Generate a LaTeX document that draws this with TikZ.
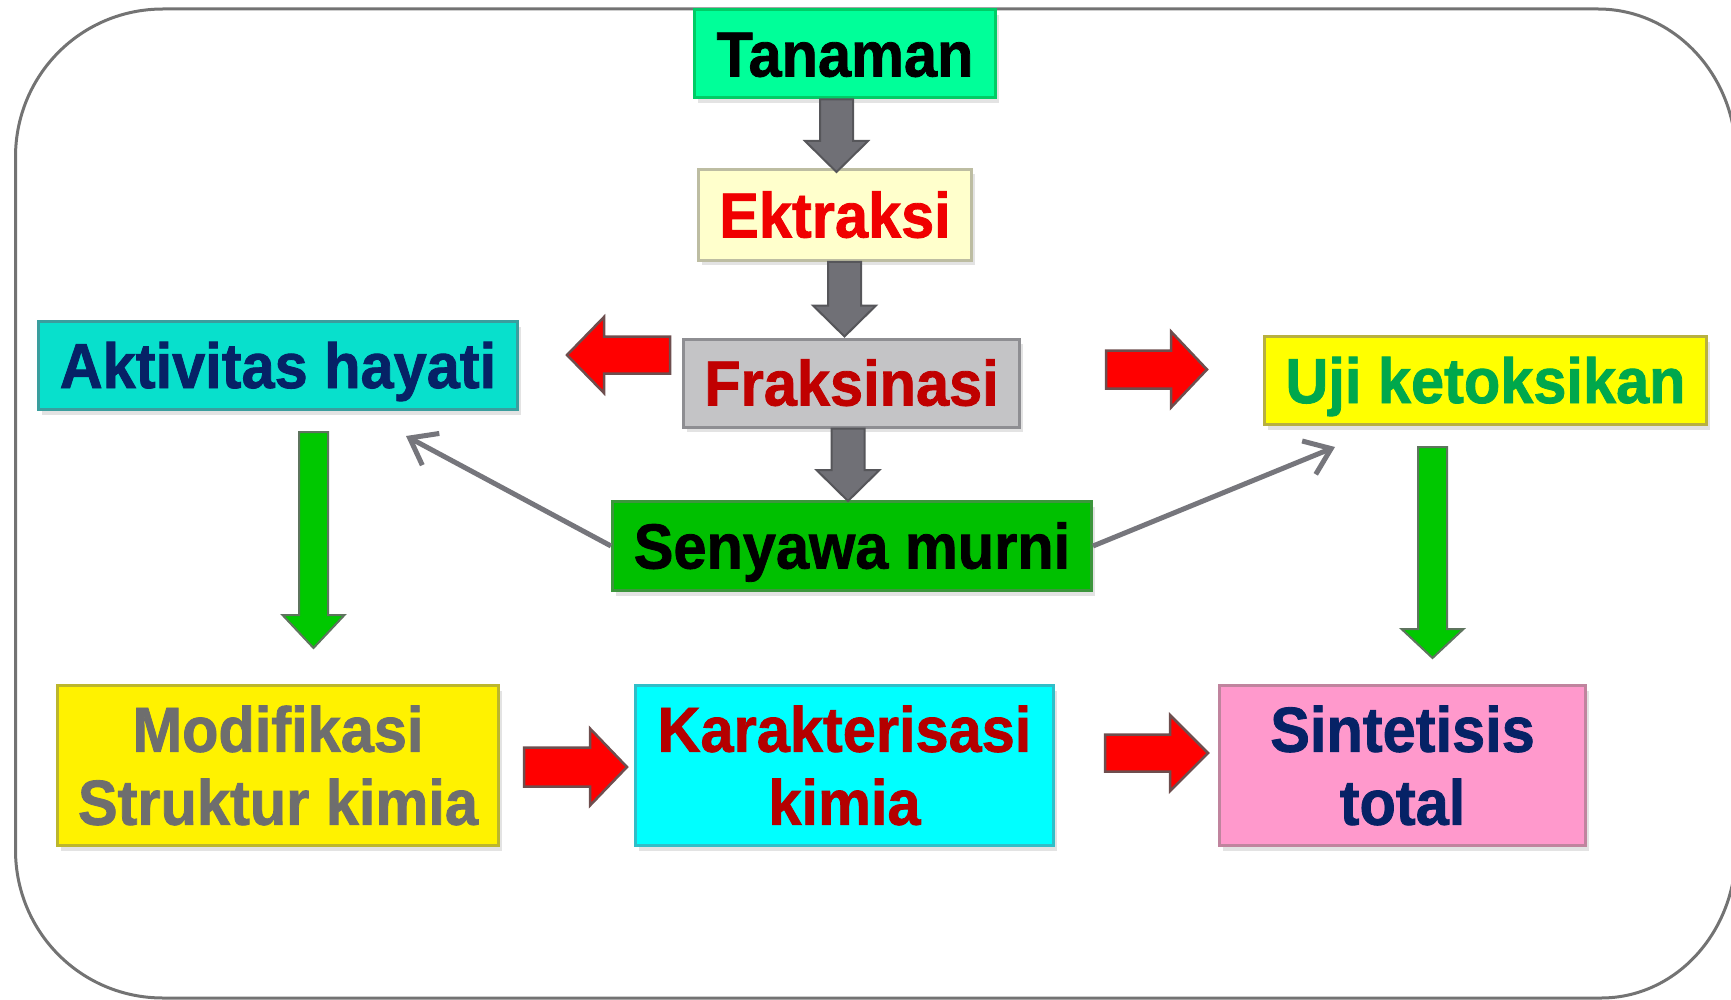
\documentclass[tikz,border=0pt]{standalone}
\usepackage{fontspec}
\setmainfont{Liberation Sans}
\newfontfamily\heavyfont{Liberation Sans Bold}[FakeBold=1.3]
\usetikzlibrary{calc,arrows.meta,shadows}

% box fills, borders and text colours
\definecolor{tanF}{HTML}{00FF99}\definecolor{tanD}{HTML}{00CC66}
\definecolor{ektF}{HTML}{FFFFCC}\definecolor{ektD}{HTML}{BDBDA2}\definecolor{ektT}{HTML}{F00000}
\definecolor{frakF}{HTML}{C4C4C6}\definecolor{frakD}{HTML}{8E8E92}\definecolor{frakT}{HTML}{C00000}
\definecolor{aktF}{HTML}{08E0CC}\definecolor{aktD}{HTML}{3A9E9E}\definecolor{navyT}{HTML}{062266}
\definecolor{ujiF}{HTML}{FFFF00}\definecolor{ujiD}{HTML}{B8B040}\definecolor{ujiT}{HTML}{00A84C}
\definecolor{senF}{HTML}{00C000}\definecolor{senD}{HTML}{3C963C}
\definecolor{modD}{HTML}{BCB62C}\definecolor{modT}{HTML}{6E6E6E}
\definecolor{karF}{HTML}{00FFFF}\definecolor{karD}{HTML}{30BEC8}\definecolor{karT}{HTML}{B40000}
\definecolor{sinF}{HTML}{FF99CC}\definecolor{sinD}{HTML}{C0849E}
% arrow colours
\definecolor{grayArF}{HTML}{707076}\definecolor{grayArD}{HTML}{56565A}
\definecolor{redArD}{HTML}{6E4E4E}
\definecolor{grnArF}{HTML}{00C800}\definecolor{grnArD}{HTML}{5E745E}
\definecolor{thinAr}{HTML}{76767C}
\definecolor{frameC}{HTML}{737373}

% slightly tall lettering
\newcommand\tall[1]{\scalebox{1}[1.07]{#1}}

% block arrow: style, tail, tip, half shaft width, half head width, head length
\newcommand\blockarrow[6]{%
  \draw[#1] ($(#2)!#4!90:(#3)$) -- ($(#3)!#6!(#2)!#4!-90:(#2)$)
    -- ($(#3)!#6!(#2)!#5!-90:(#2)$) -- (#3)
    -- ($(#3)!#6!(#2)!#5!90:(#2)$) -- ($(#3)!#6!(#2)!#4!90:(#2)$)
    -- ($(#2)!#4!-90:(#3)$) -- cycle;}

\tikzset{
  boxbase/.style={draw, line width=3pt, inner sep=0pt, align=center,
    font=\heavyfont\fontsize{59.5}{73}\selectfont,
    drop shadow={shadow xshift=3pt, shadow yshift=-5pt, fill=black!11, opacity=1}},
  oneline/.style={boxbase, text height=45pt, text depth=0pt, minimum height=88pt},
  twoline/.style={boxbase, minimum height=160pt},
  grayarr/.style={fill=grayArF, draw=grayArD, line width=2pt, line join=miter},
  redarr/.style={fill=red, draw=redArD, line width=2.5pt, line join=miter},
  greenarr/.style={fill=grnArF, draw=grnArD, line width=2pt, line join=miter},
  thinarr/.style={draw=thinAr, line width=5pt,
    -{Straight Barb[length=24pt, width=36pt]}},
  framestyle/.style={draw=frameC, line width=3pt}
}

\begin{document}
\begin{tikzpicture}[x=1pt, y=-1pt]
\path[use as bounding box] (0,0) rectangle (1731,1000);

% outer rounded frame
\draw[framestyle] (163,9) -- (1598,9) .. controls (1674,9) and (1736,75) .. (1736,157)
  -- (1736,850) .. controls (1736,932) and (1676,998) .. (1601,998)
  -- (163,998) .. controls (81,998) and (15.5,932) .. (15.5,850)
  -- (15.5,157) .. controls (15.5,75) and (81,9) .. (163,9) -- cycle;

% boxes
\node[oneline, fill=tanF, draw=tanD, text=black, minimum width=301pt, drop shadow={opacity=0}] (tan) at (845,54) {\tall{Tanaman}};
\node[oneline, fill=ektF, draw=ektD, text=ektT, minimum width=273pt, minimum height=91pt] (ekt) at (835,215) {\tall{Ektraksi}};
\node[oneline, fill=frakF, draw=frakD, text=frakT, minimum width=336pt] (frak) at (851.5,383) {\tall{Fraksinasi}};
\node[oneline, fill=aktF, draw=aktD, text=navyT, minimum width=479pt] (akt) at (278,365.5) {\tall{Aktivitas hayati}};
\node[oneline, fill=ujiF, draw=ujiD, text=ujiT, minimum width=442pt] (uji) at (1485.5,380.5) {\tall{Uji ketoksikan}};
\node[oneline, fill=senF, draw=senD, text=black, minimum width=479pt, minimum height=89pt] (sen) at (852,546) {\tall{Senyawa murni}};
\node[twoline, fill=yellow, draw=modD, text=modT, minimum width=441pt] (mod) at (278,765.5) {\tall{Modifikasi}\\\tall{Struktur kimia}};
\node[twoline, fill=karF, draw=karD, text=karT, minimum width=418pt] (kar) at (844.5,765.5) {\tall{Karakterisasi}\\\tall{kimia}};
\node[twoline, fill=sinF, draw=sinD, text=navyT, minimum width=366pt] (sin) at (1402.5,765.5) {\tall{Sintetisis}\\\tall{total}};

% arrow end points
\coordinate (g1a) at ($(tan.south)+(-8.5,0)$);  \coordinate (g1b) at ($(ekt.north)+(1.5,4)$);
\coordinate (g2a) at ($(ekt.south)+(9.5,0)$);   \coordinate (g2b) at ($(frak.north)+(-7,-1)$);
\coordinate (g3a) at ($(frak.south)+(-3.5,0)$); \coordinate (g3b) at ($(sen.north)+(-4,1)$);
\coordinate (r1a) at ($(frak.west)+(-12,-28)$); \coordinate (r1b) at ($(akt.east)+(48,-10.5)$);
\coordinate (r2a) at ($(frak.east)+(85,-13.5)$); \coordinate (r2b) at ($(uji.west)+(-56,-11)$);
\coordinate (r3a) at ($(mod.east)+(24,1.5)$);   \coordinate (r3b) at ($(kar.west)+(-7,1.5)$);
\coordinate (r4a) at ($(kar.east)+(50,-12.5)$); \coordinate (r4b) at ($(sin.west)+(-10,-12.5)$);
\coordinate (gla) at ($(akt.south)+(35.5,21)$); \coordinate (glb) at ($(mod.north)+(35.5,-36)$);
\coordinate (gra) at ($(uji.south)+(-53,21)$);  \coordinate (grb) at ($(sin.north)+(30,-26)$);
\coordinate (toAkt) at (406,436);
\coordinate (toUji) at (1335,447);

% grey flow arrows down the middle
\blockarrow{grayarr}{g1a}{g1b}{16.5pt}{31.5pt}{31pt}
\blockarrow{grayarr}{g2a}{g2b}{16.5pt}{31.5pt}{31pt}
\blockarrow{grayarr}{g3a}{g3b}{16.5pt}{31.5pt}{31pt}

% red arrows
\blockarrow{redarr}{r1a}{r1b}{18.5pt}{38pt}{37pt}
\blockarrow{redarr}{r2a}{r2b}{19pt}{38pt}{36pt}
\blockarrow{redarr}{r3a}{r3b}{19.5pt}{38.5pt}{37pt}
\blockarrow{redarr}{r4a}{r4b}{18.5pt}{38pt}{38pt}

% green arrows
\blockarrow{greenarr}{gla}{glb}{14.5pt}{31pt}{33pt}
\blockarrow{greenarr}{gra}{grb}{14.5pt}{31pt}{29pt}

% thin arrows from the pure compound
\draw[thinarr] (sen.west) -- (toAkt);
\draw[thinarr] (sen.east) -- (toUji);
\end{tikzpicture}
\end{document}
